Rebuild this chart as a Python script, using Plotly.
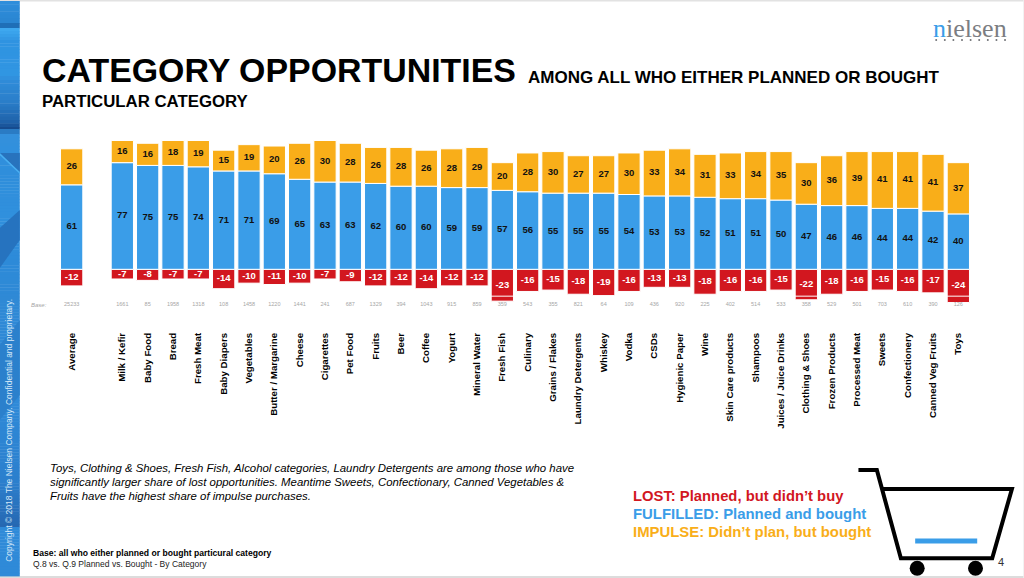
import plotly.graph_objects as go

BLANK = "\u00a0"
categories = ["Average", BLANK, "Milk / Kefir", "Baby Food", "Bread", "Fresh Meat", "Baby Diapers", "Vegetables",
              "Butter / Margarine", "Cheese", "Cigarettes", "Pet Food", "Fruits", "Beer", "Coffee", "Yogurt",
              "Mineral Water", "Fresh Fish", "Culinary", "Grains / Flakes", "Laundry Detergents", "Whiskey", "Vodka",
              "CSDs", "Hygienic Paper", "Wine", "Skin Care products", "Shampoos", "Juices / Juice Drinks",
              "Clothing & Shoes", "Frozen Products", "Processed Meat", "Sweets", "Confectionery",
              "Canned Veg Fruits", "Toys"]
impulse = [26, None, 16, 16, 18, 19, 15, 19, 20, 26, 30, 28, 26, 28, 26, 28, 29, 20, 28, 30, 27, 27, 30, 33, 34, 31,
           33, 34, 35, 30, 36, 39, 41, 41, 41, 37]
fulfilled = [61, None, 77, 75, 75, 74, 71, 71, 69, 65, 63, 63, 62, 60, 60, 59, 59, 57, 56, 55, 55, 55, 54, 53, 53, 52,
             51, 51, 50, 47, 46, 46, 44, 44, 42, 40]
lost = [-12, None, -7, -8, -7, -7, -14, -10, -11, -10, -7, -9, -12, -12, -14, -12, -12, -23, -16, -15, -18, -19, -16,
        -13, -13, -18, -16, -16, -15, -22, -18, -16, -15, -16, -17, -24]
base_n = ["25233", "", "1661", "85", "1958", "1318", "108", "1458", "1220", "1441", "241", "687", "1329", "394",
          "1043", "915", "859", "359", "543", "355", "821", "64", "109", "436", "920", "225", "402", "514", "533",
          "358", "529", "501", "703", "610", "390", "126"]
base_row = -25.5

RED, BLUE, ORANGE = "#d2171f", "#3a9de8", "#f9ae19"
SANS = "Liberation Sans, Arial, sans-serif"

W, H = 1024, 578
L, R, T, B = 59.2, 970.8, 130.0, 320.0


def px(v):
    return (v - L) / (R - L)


def py(v):
    return (B - v) / (B - T)


fig = go.Figure()
for name, vals, col in [("LOST", lost, RED), ("FULFILLED", fulfilled, BLUE), ("IMPULSE", impulse, ORANGE)]:
    fig.add_bar(name=name, x=categories, y=vals, width=0.88, marker=dict(color=col, line=dict(color="#fff", width=1)),
                textposition="none", hoverinfo="skip")

# bar value labels, centred on each stack segment
for vals, offset_vals, tc in [(lost, None, "white"), (fulfilled, None, "#111"), (impulse, fulfilled, "#111")]:
    ys = [None if v is None else (v / 2 + (offset_vals[i] if offset_vals else 0)) for i, v in enumerate(vals)]
    fig.add_scatter(x=categories, y=ys, mode="text", text=[None if v is None else str(v) for v in vals],
                    textposition="middle center", textfont=dict(family=SANS, size=9.5, color=tc, weight="bold"),
                    hoverinfo="skip", cliponaxis=False)

fig.add_scatter(x=categories, y=[base_row] * len(categories), mode="text", text=base_n,
                textposition="middle center", textfont=dict(family=SANS, size=5.5, color="#a6a6a6"),
                hoverinfo="skip", cliponaxis=False)

shapes = []


def rect(x0, y0, x1, y1, color):
    shapes.append(dict(type="rect", xref="paper", yref="paper", x0=px(x0), x1=px(x1), y0=py(y0), y1=py(y1),
                       fillcolor=color, line=dict(width=0), layer="below"))


def poly(points, color):
    p = "M " + " L ".join(f"{px(a):.5f} {py(b):.5f}" for a, b in points) + " Z"
    shapes.append(dict(type="path", xref="paper", yref="paper", path=p, fillcolor=color, line=dict(width=0),
                       layer="below"))


# page edges
rect(0, 0, W, 1.5, "#e2e2e2")
rect(0, 576, W, H, "#dcdcdc")
rect(1023, 0, W, H, "#eeeeee")

# blue side panel: a soft vertical ramp between colour stops, plus a few diagonal streaks
stops = [(1, "#2f8edb"), (18, "#2a86d2"), (23, "#1f6fb7"), (28, "#3ea8ef"), (40, "#2f93e1"), (72, "#3096e2"),
         (80, "#2f8bd8"), (100, "#2a7ec9"), (120, "#1f62aa"), (127, "#164b8e"), (129, "#2a7bc4"), (134, "#3490dc"),
         (152, "#3090dd"), (172, "#2f8edb"), (215, "#3090dd"), (262, "#2d8ad8"), (300, "#2f89d5"), (400, "#2f8ad8"),
         (480, "#2b7fcd"), (524, "#2668b2"), (527, "#2f8ad8"), (576, "#2f8ad8")]


def hex_rgb(c):
    return tuple(int(c[i:i + 2], 16) for i in (1, 3, 5))


for (y0, c0), (y1, c1) in zip(stops, stops[1:]):
    n = max(1, int((y1 - y0) // 3))
    a, b = hex_rgb(c0), hex_rgb(c1)
    for k in range(n):
        t = k / n
        col = "#%02x%02x%02x" % tuple(round(a[j] + (b[j] - a[j]) * t) for j in range(3))
        rect(0, y0 + (y1 - y0) * k / n, 20, y0 + (y1 - y0) * (k + 1) / n + 0.4, col)
poly([(0, 153), (20, 172), (20, 153)], "#2873bd")
poly([(0, 153), (20, 172), (20, 174), (0, 155)], "#49aef0")
poly([(20, 210), (0, 228), (0, 268), (20, 240)], "#2673bf")
poly([(20, 320), (0, 345), (0, 420), (20, 395)], "#2b80cc")

# white line that cuts the deepest bars
shapes.append(dict(type="line", xref="paper", yref="y", x0=0, x1=1, y0=-19.4, y1=-19.4,
                   line=dict(color="#fff", width=1), layer="above"))

# shopping cart
pts = [(858.3, 470), (876.7, 470), (900.7, 558.3), (992, 558.3), (1011.7, 489), (883.3, 489)]
path = "M " + " L ".join(f"{px(a):.5f} {py(b):.5f}" for a, b in pts)
shapes.append(dict(type="path", xref="paper", yref="paper", path=path, line=dict(color="#000", width=4), layer="above"))
rect(915, 538.5, 977, 543.5, BLUE)
for cx in (917, 975.3):
    shapes.append(dict(type="circle", xref="paper", yref="paper", x0=px(cx - 7.5), x1=px(cx + 7.5),
                       y0=py(568.3 + 7.5), y1=py(568.3 - 7.5), fillcolor="#000", line=dict(width=0)))

# logo dots
for i in range(9):
    cx = 936 + i * 8.6
    shapes.append(dict(type="circle", xref="paper", yref="paper", x0=px(cx - 1), x1=px(cx + 1),
                       y0=py(41), y1=py(39), fillcolor="#6f7175", line=dict(width=0)))

ann = []


def text(x, y, s, size, color="#000", bold=False, italic=False, anchor="left", angle=0, family=SANS):
    ann.append(dict(xref="paper", yref="paper", x=px(x), y=py(y), text=s, showarrow=False, xanchor=anchor,
                    yanchor="middle", textangle=angle, align="left", borderpad=0,
                    font=dict(family=family, size=size, color=color, weight="bold" if bold else "normal",
                              style="italic" if italic else "normal")))


text(41.5, 70, "CATEGORY OPPORTUNITIES", 33.9, bold=True)
text(526.5, 77.5, "AMONG ALL WHO EITHER PLANNED OR BOUGHT", 17, bold=True)
text(41.5, 101, "PARTICULAR CATEGORY", 16.8, bold=True)
text(30.5, 304.5, "Base:", 6, color="#a6a6a6", italic=True)
text(49.5, 468, "Toys, Clothing &amp; Shoes, Fresh Fish, Alcohol categories, Laundry Detergents are among those who have", 11.4, italic=True)
text(49.5, 482, "significantly larger share of lost opportunities. Meantime Sweets, Confectionary, Canned Vegetables &amp;", 11.4, italic=True)
text(49.5, 496, "Fruits have the highest share of impulse purchases.", 11.4, italic=True)
text(631.5, 496, "LOST: Planned, but didn\u2019t buy", 14.8, color=RED, bold=True)
text(631.5, 514, "FULFILLED: Planned and bought", 14.9, color=BLUE, bold=True)
text(631.5, 532, "IMPULSE: Didn\u2019t plan, but bought", 14.9, color=ORANGE, bold=True)
text(32.5, 553, "Base: all who either planned or bought particural category", 8.6, bold=True)
text(32.5, 564, "Q.8 vs. Q.9 Planned vs. Bought - By Category", 8.5, color="#222")
text(1001, 561.5, "4", 11, color="#333", anchor="center")
text(9, 430, "Copyright \u00a9 2018 The Nielsen Company. Confidential and proprietary.", 8.5, color="#d5e8f8", anchor="center", angle=-90)
text(932, 29, "<span style='color:#3a9de8'>n</span>ielsen", 26, color="#7b7d82", family="Liberation Serif, serif")

fig.update_layout(
    width=W, height=H, autosize=False, barmode="relative", showlegend=False, paper_bgcolor="#fff", plot_bgcolor="#fff",
    margin=dict(l=L, r=W - R, t=T, b=H - B, pad=0), shapes=shapes, annotations=ann,
    xaxis=dict(type="category", categoryorder="array", categoryarray=categories, range=[-0.5, 35.5], tickmode="array",
               tickvals=categories, ticktext=categories, tickangle=-90, ticks="outside", ticklen=8,
               tickcolor="rgba(0,0,0,0)", showgrid=False, showline=False, zeroline=False,
               tickfont=dict(family=SANS, size=9.7, color="#000", weight="bold")),
    yaxis=dict(range=[(320 - 269.3) / -1.385, (269.3 - 130) / 1.385], visible=False, showgrid=False, zeroline=False),
)
fig.write_html("out.html", config={"displayModeBar": False}, post_script="document.body.style.margin='0';document.body.style.overflow='hidden';")
